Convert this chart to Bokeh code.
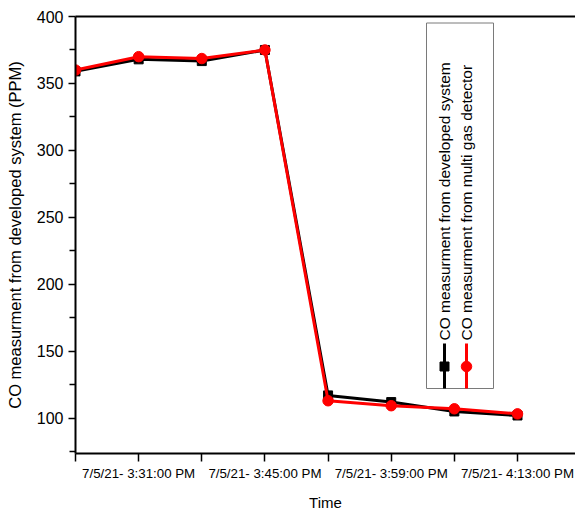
from datetime import datetime
import math
from bokeh.plotting import figure
from bokeh.models import Range1d, FixedTicker, LinearAxis
from bokeh.core.properties import value
from bokeh.embed import file_html
from bokeh.resources import INLINE

# ---- data ----
times = ["3:24:00 PM", "3:31:00 PM", "3:38:00 PM", "3:45:00 PM",
         "3:52:00 PM", "3:59:00 PM", "4:06:00 PM", "4:13:00 PM"]
developed_system = [359, 368, 366.7, 375, 117, 112, 105, 102]
gas_detector = [360, 370, 368.6, 375, 113, 109.3, 107, 103.2]
labeled_times = ["3:31:00 PM", "3:45:00 PM", "3:59:00 PM", "4:13:00 PM"]
date_prefix = "7/5/21- "
y_ticks = [100, 150, 200, 250, 300, 350, 400]
series_names = ["CO measurment from developed system",
                "CO measurment from multi gas detector"]

t0 = datetime.strptime(times[0], "%I:%M:%S %p")
minutes = [(datetime.strptime(t, "%I:%M:%S %p") - t0).seconds / 60 for t in times]

FONT = "Liberation Sans"
FW, FH = 500, 437

p = figure(frame_width=FW, frame_height=FH, output_backend="svg", toolbar_location=None,
           x_range=Range1d(0, 55.43), y_range=Range1d(73.6, 400),
           min_border_left=75, min_border_right=0, min_border_top=16, min_border_bottom=50,
           background_fill_color="white", border_fill_color="white")
p.outline_line_color = None
p.grid.visible = False

# pixel-space ranges for the hand-built legend
p.extra_x_ranges = {"px": Range1d(0, FW)}
p.extra_y_ranges = {"px": Range1d(FH, 0)}

# x axis
xa = p.xaxis[0]
xa.ticker = FixedTicker(ticks=minutes)
xa.major_label_overrides = {m: (date_prefix + t if t in labeled_times else "")
                            for m, t in zip(minutes, times)}
xa.axis_label = "Time"
xa.major_tick_out = 8
xa.major_tick_in = 0
xa.minor_tick_line_color = None
xa.major_label_standoff = 4
xa.axis_label_standoff = 10

# y axis
ya = p.yaxis[0]
ya.ticker = FixedTicker(ticks=y_ticks, minor_ticks=[75 + 50 * i for i in range(7)])
ya.axis_label = "CO measurment from developed system (PPM)"
ya.major_tick_out = 7
ya.major_tick_in = 0
ya.minor_tick_out = 6
ya.minor_tick_in = 0
ya.major_label_standoff = 5
ya.axis_label_standoff = 10

for ax in (xa, ya):
    ax.axis_line_width = 2
    ax.major_tick_line_width = 1.5
    ax.minor_tick_line_width = 1.5
    ax.axis_line_color = "black"
    ax.major_tick_line_color = "black"
    ax.major_label_text_font = FONT
    ax.axis_label_text_font = FONT
    ax.axis_label_text_font_style = "normal"
    ax.major_label_text_color = "black"
    ax.axis_label_text_color = "black"
xa.major_label_text_font_size = "13.3px"
xa.axis_label_text_font_size = "15px"
ya.major_label_text_font_size = "16px"
ya.axis_label_text_font_size = "16.5px"
ya.minor_tick_line_color = "black"

top = LinearAxis(ticker=FixedTicker(ticks=[]), axis_line_width=2, axis_line_color="black",
                 major_tick_line_color=None, minor_tick_line_color=None)
p.add_layout(top, "above")

# data series
p.line(minutes, developed_system, line_color="black", line_width=3)
p.scatter(minutes, developed_system, marker="square", size=9, color="black")
p.line(minutes, gas_detector, line_color="red", line_width=3)
p.scatter(minutes, gas_detector, marker="circle", size=10.5, color="red")

# legend (vertical, rotated text)
p.quad(left=351, right=418, top=6.5, bottom=372, fill_color="white", line_color="#7a7a7a",
       line_width=1, x_range_name="px", y_range_name="px")
lx = [369, 391]
colors = ["black", "red"]
markers = ["square", "circle"]
msize = [9, 10.5]
for i in range(2):
    p.segment(x0=lx[i], y0=327, x1=lx[i], y1=372, line_color=colors[i], line_width=3,
              x_range_name="px", y_range_name="px")
    p.scatter([lx[i]], [350], marker=markers[i], size=msize[i], color=colors[i],
              x_range_name="px", y_range_name="px")
    p.text(x=[lx[i]], y=[324], text=[series_names[i]], angle=math.pi / 2,
           text_align="left", text_baseline="middle", text_font=value(FONT),
           text_font_size="15.5px", text_color="black",
           x_range_name="px", y_range_name="px")

open("out.html", "w").write(file_html(p, INLINE))
